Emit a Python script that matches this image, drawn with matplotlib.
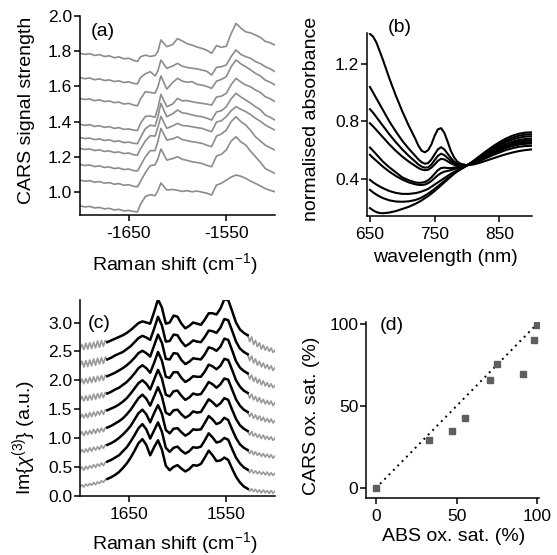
import numpy as np
import matplotlib
matplotlib.use("Agg")
import matplotlib.pyplot as plt

plt.rcParams['font.family'] = ['Liberation Sans', 'DejaVu Sans']
plt.rcParams['mathtext.fontset'] = 'custom'
plt.rcParams['mathtext.rm'] = 'Liberation Sans'
plt.rcParams['mathtext.it'] = 'Liberation Sans:italic'
plt.rcParams['axes.unicode_minus'] = False

# ---- (a) CARS spectra, raw signal ----
shift_a = [-1700, -1695, -1690, -1685, -1680, -1675, -1670, -1665, -1660, -1655, -1650, -1645,
           -1641, -1638, -1633, -1628, -1623, -1620, -1617, -1611, -1605,
           -1600, -1595, -1590, -1585, -1580, -1575, -1570, -1565, -1560, -1555, -1550,
           -1545, -1540, -1535, -1530, -1525, -1520, -1515, -1510, -1505, -1500]
cars_a = [
    [1.788, 1.782, 1.786, 1.776, 1.781, 1.770, 1.774, 1.763, 1.768, 1.757, 1.760, 1.748,
     1.742, 1.768, 1.778, 1.770, 1.776, 1.800, 1.864, 1.826, 1.838,
     1.872, 1.858, 1.842, 1.835, 1.824, 1.816, 1.806, 1.788, 1.832, 1.822, 1.828,
     1.900, 1.958, 1.932, 1.910, 1.904, 1.892, 1.878, 1.856, 1.848, 1.835],
    [1.650, 1.644, 1.648, 1.638, 1.643, 1.634, 1.637, 1.628, 1.632, 1.622, 1.626, 1.617,
     1.615, 1.650, 1.672, 1.684, 1.660, 1.690, 1.750, 1.703, 1.716,
     1.731, 1.715, 1.708, 1.703, 1.700, 1.693, 1.686, 1.665, 1.708, 1.712, 1.722,
     1.770, 1.807, 1.782, 1.769, 1.760, 1.741, 1.730, 1.712, 1.700, 1.684],
    [1.532, 1.526, 1.529, 1.519, 1.524, 1.514, 1.518, 1.508, 1.511, 1.500, 1.504, 1.494,
     1.490, 1.528, 1.570, 1.566, 1.562, 1.600, 1.660, 1.585, 1.622,
     1.646, 1.630, 1.624, 1.627, 1.612, 1.608, 1.600, 1.589, 1.630, 1.640, 1.655,
     1.712, 1.750, 1.728, 1.712, 1.694, 1.674, 1.660, 1.636, 1.624, 1.608],
    [1.385, 1.379, 1.383, 1.373, 1.377, 1.368, 1.372, 1.362, 1.366, 1.356, 1.359, 1.352,
     1.350, 1.390, 1.430, 1.432, 1.425, 1.480, 1.555, 1.485, 1.500,
     1.532, 1.518, 1.520, 1.513, 1.508, 1.504, 1.500, 1.494, 1.540, 1.545, 1.561,
     1.610, 1.646, 1.625, 1.608, 1.598, 1.580, 1.566, 1.542, 1.530, 1.514],
    [1.310, 1.304, 1.307, 1.298, 1.302, 1.293, 1.297, 1.287, 1.291, 1.281, 1.284, 1.277,
     1.275, 1.310, 1.360, 1.380, 1.375, 1.430, 1.504, 1.428, 1.445,
     1.466, 1.450, 1.446, 1.438, 1.432, 1.428, 1.420, 1.409, 1.455, 1.462, 1.485,
     1.530, 1.561, 1.540, 1.523, 1.505, 1.485, 1.468, 1.438, 1.425, 1.409],
    [1.248, 1.242, 1.245, 1.236, 1.240, 1.231, 1.234, 1.225, 1.228, 1.219, 1.222, 1.212,
     1.210, 1.245, 1.290, 1.320, 1.318, 1.370, 1.430, 1.362, 1.376,
     1.390, 1.378, 1.376, 1.371, 1.366, 1.362, 1.352, 1.343, 1.398, 1.405, 1.428,
     1.462, 1.485, 1.470, 1.457, 1.440, 1.419, 1.402, 1.381, 1.366, 1.352],
    [1.157, 1.151, 1.154, 1.145, 1.149, 1.140, 1.143, 1.134, 1.137, 1.128, 1.131, 1.122,
     1.120, 1.150, 1.200, 1.235, 1.236, 1.290, 1.362, 1.296, 1.302,
     1.314, 1.298, 1.292, 1.286, 1.282, 1.277, 1.266, 1.258, 1.318, 1.330, 1.352,
     1.400, 1.428, 1.400, 1.381, 1.350, 1.314, 1.290, 1.267, 1.252, 1.239],
    [1.068, 1.062, 1.065, 1.056, 1.060, 1.051, 1.054, 1.045, 1.048, 1.039, 1.042, 1.033,
     1.030, 1.060, 1.110, 1.150, 1.155, 1.190, 1.245, 1.182, 1.190,
     1.201, 1.186, 1.180, 1.172, 1.168, 1.163, 1.152, 1.144, 1.205, 1.215, 1.239,
     1.290, 1.314, 1.285, 1.267, 1.232, 1.201, 1.170, 1.134, 1.120, 1.106],
    [0.922, 0.916, 0.919, 0.910, 0.913, 0.905, 0.908, 0.899, 0.902, 0.893, 0.896, 0.890,
     0.888, 0.930, 0.975, 0.985, 0.980, 1.010, 1.052, 1.012, 1.015,
     1.010, 1.004, 1.008, 1.002, 1.006, 1.000, 0.994, 0.983, 1.040, 1.050, 1.068,
     1.085, 1.097, 1.090, 1.078, 1.062, 1.049, 1.035, 1.020, 1.010, 1.002],
]

# ---- (b) absorbance spectra ----
wl = [650, 655, 660, 665, 670, 680, 690, 700, 710, 720, 725, 730, 735, 740, 745, 750, 755, 760,
      765, 770, 775, 780, 785, 790, 800, 810, 820, 830, 840, 850, 860, 870, 880, 890, 900]
absorb = [
    [1.41, 1.39, 1.35, 1.29, 1.23, 1.10, 0.98, 0.87, 0.77, 0.68, 0.63, 0.595, 0.585, 0.60, 0.64, 0.70, 0.745, 0.753,
     0.72, 0.66, 0.595, 0.55, 0.52, 0.505, 0.495, 0.500, 0.512, 0.527, 0.542, 0.557, 0.571, 0.583, 0.593, 0.600, 0.605],
    [1.04, 1.00, 0.96, 0.92, 0.88, 0.80, 0.73, 0.665, 0.61, 0.56, 0.535, 0.515, 0.505, 0.51, 0.535, 0.57, 0.605, 0.62,
     0.605, 0.575, 0.545, 0.52, 0.505, 0.498, 0.495, 0.505, 0.525, 0.545, 0.565, 0.583, 0.600, 0.613, 0.623, 0.628, 0.630],
    [0.885, 0.86, 0.83, 0.80, 0.77, 0.71, 0.655, 0.605, 0.56, 0.52, 0.50, 0.485, 0.478, 0.48, 0.50, 0.53, 0.56, 0.575,
     0.565, 0.545, 0.525, 0.508, 0.498, 0.494, 0.494, 0.508, 0.530, 0.553, 0.575, 0.596, 0.614, 0.628, 0.638, 0.644, 0.646],
    [0.787, 0.765, 0.74, 0.715, 0.69, 0.64, 0.595, 0.555, 0.52, 0.49, 0.475, 0.465, 0.46, 0.463, 0.478, 0.50, 0.525, 0.54,
     0.535, 0.522, 0.508, 0.498, 0.493, 0.492, 0.494, 0.510, 0.534, 0.558, 0.581, 0.603, 0.622, 0.637, 0.648, 0.654, 0.656],
    [0.618, 0.595, 0.57, 0.545, 0.52, 0.48, 0.445, 0.41, 0.39, 0.375, 0.372, 0.373, 0.378, 0.39, 0.41, 0.435, 0.46, 0.475,
     0.478, 0.475, 0.475, 0.478, 0.482, 0.486, 0.495, 0.515, 0.540, 0.565, 0.590, 0.612, 0.631, 0.647, 0.658, 0.665, 0.667],
    [0.567, 0.545, 0.525, 0.505, 0.485, 0.45, 0.42, 0.395, 0.375, 0.362, 0.358, 0.357, 0.36, 0.37, 0.385, 0.405, 0.425, 0.44,
     0.45, 0.455, 0.46, 0.468, 0.475, 0.482, 0.496, 0.518, 0.545, 0.572, 0.598, 0.622, 0.642, 0.658, 0.670, 0.677, 0.679],
    [0.393, 0.375, 0.36, 0.347, 0.335, 0.315, 0.302, 0.295, 0.295, 0.30, 0.305, 0.312, 0.32, 0.33, 0.345, 0.36, 0.375, 0.39,
     0.405, 0.42, 0.435, 0.448, 0.46, 0.47, 0.494, 0.520, 0.550, 0.580, 0.608, 0.634, 0.656, 0.673, 0.686, 0.694, 0.696],
    [0.323, 0.305, 0.29, 0.277, 0.266, 0.25, 0.242, 0.24, 0.243, 0.252, 0.26, 0.27, 0.283, 0.297, 0.313, 0.33, 0.348, 0.366,
     0.385, 0.403, 0.42, 0.436, 0.452, 0.465, 0.493, 0.523, 0.555, 0.587, 0.617, 0.644, 0.667, 0.686, 0.700, 0.708, 0.710],
    [0.196, 0.18, 0.168, 0.162, 0.16, 0.165, 0.175, 0.19, 0.205, 0.225, 0.237, 0.25, 0.265, 0.28, 0.297, 0.315, 0.335, 0.355,
     0.375, 0.395, 0.415, 0.435, 0.452, 0.468, 0.493, 0.525, 0.560, 0.594, 0.626, 0.655, 0.680, 0.700, 0.714, 0.722, 0.724],
]

# ---- (c) retrieved Im chi(3) spectra: gray = data, black = fit ----
shift_left = [1700, 1698, 1696, 1694, 1692, 1690, 1688, 1686, 1684, 1682, 1680, 1678, 1676, 1674, 1672]
shift_mid = [1672, 1668, 1664, 1660, 1656, 1652, 1648, 1644, 1640, 1636, 1632, 1628, 1624, 1620, 1616, 1612,
             1608, 1604, 1600, 1596, 1592, 1588, 1584, 1580, 1576, 1572, 1568, 1564, 1560, 1556, 1552, 1548,
             1544, 1540, 1536, 1532, 1528]
shift_right = [1528, 1526, 1524, 1522, 1520, 1518, 1516, 1514, 1512, 1510, 1508, 1506, 1504, 1502, 1500]
offsets_c = [0.0, 0.3, 0.6, 0.9, 1.2, 1.5, 1.8, 2.1, 2.4]

chi_left = [
    [0.15, 0.19, 0.15, 0.20, 0.17, 0.21, 0.18, 0.23, 0.19, 0.24, 0.21, 0.26, 0.23, 0.28, 0.29],
    [0.15, 0.20, 0.14, 0.21, 0.16, 0.22, 0.18, 0.24, 0.19, 0.25, 0.21, 0.27, 0.22, 0.28, 0.29],
    [0.14, 0.20, 0.15, 0.21, 0.16, 0.23, 0.17, 0.24, 0.19, 0.25, 0.20, 0.27, 0.22, 0.28, 0.28],
    [0.15, 0.21, 0.14, 0.22, 0.16, 0.23, 0.17, 0.25, 0.18, 0.26, 0.20, 0.27, 0.21, 0.28, 0.28],
    [0.14, 0.21, 0.15, 0.22, 0.15, 0.24, 0.17, 0.25, 0.18, 0.26, 0.20, 0.28, 0.21, 0.29, 0.28],
    [0.15, 0.22, 0.14, 0.23, 0.15, 0.24, 0.16, 0.26, 0.17, 0.27, 0.19, 0.28, 0.20, 0.29, 0.27],
    [0.14, 0.22, 0.14, 0.23, 0.15, 0.25, 0.16, 0.26, 0.17, 0.27, 0.19, 0.28, 0.20, 0.29, 0.27],
    [0.15, 0.23, 0.13, 0.24, 0.14, 0.25, 0.15, 0.27, 0.16, 0.28, 0.18, 0.29, 0.19, 0.30, 0.26],
    [0.14, 0.22, 0.13, 0.24, 0.14, 0.25, 0.15, 0.26, 0.16, 0.28, 0.17, 0.29, 0.19, 0.29, 0.26],
]
chi_fit = [
    [0.29, 0.32, 0.36, 0.41, 0.48, 0.56, 0.66, 0.78, 0.91, 0.98, 0.88, 0.70, 0.84, 0.96, 0.80, 0.52, 0.44, 0.50, 0.53,
     0.47, 0.42, 0.46, 0.53, 0.52, 0.55, 0.66, 0.78, 0.70, 0.60, 0.61, 0.66, 0.62, 0.47, 0.33, 0.23, 0.16, 0.12],
    [0.29, 0.32, 0.36, 0.40, 0.47, 0.54, 0.64, 0.75, 0.87, 0.94, 0.85, 0.69, 0.83, 0.97, 0.81, 0.53, 0.46, 0.53, 0.55,
     0.48, 0.43, 0.47, 0.54, 0.53, 0.55, 0.66, 0.78, 0.71, 0.62, 0.64, 0.70, 0.67, 0.51, 0.36, 0.26, 0.19, 0.15],
    [0.28, 0.31, 0.35, 0.40, 0.46, 0.53, 0.61, 0.72, 0.83, 0.89, 0.81, 0.67, 0.83, 0.97, 0.82, 0.54, 0.48, 0.56, 0.57,
     0.50, 0.44, 0.48, 0.55, 0.54, 0.55, 0.66, 0.78, 0.72, 0.64, 0.67, 0.75, 0.71, 0.55, 0.40, 0.29, 0.23, 0.19],
    [0.28, 0.31, 0.35, 0.39, 0.44, 0.51, 0.59, 0.69, 0.79, 0.85, 0.78, 0.66, 0.82, 0.98, 0.82, 0.54, 0.50, 0.58, 0.59,
     0.51, 0.45, 0.49, 0.56, 0.54, 0.55, 0.66, 0.77, 0.72, 0.65, 0.70, 0.79, 0.76, 0.59, 0.43, 0.32, 0.26, 0.22],
    [0.28, 0.31, 0.34, 0.38, 0.43, 0.49, 0.57, 0.66, 0.75, 0.80, 0.74, 0.64, 0.81, 0.98, 0.83, 0.55, 0.52, 0.61, 0.62,
     0.53, 0.46, 0.50, 0.57, 0.55, 0.56, 0.66, 0.77, 0.73, 0.67, 0.73, 0.83, 0.81, 0.64, 0.47, 0.36, 0.29, 0.25],
    [0.27, 0.30, 0.34, 0.37, 0.42, 0.47, 0.54, 0.62, 0.71, 0.76, 0.71, 0.63, 0.80, 0.99, 0.84, 0.56, 0.54, 0.64, 0.64,
     0.54, 0.47, 0.51, 0.57, 0.56, 0.56, 0.65, 0.77, 0.74, 0.69, 0.75, 0.87, 0.85, 0.68, 0.50, 0.39, 0.32, 0.28],
    [0.27, 0.30, 0.33, 0.37, 0.41, 0.46, 0.52, 0.59, 0.67, 0.71, 0.67, 0.61, 0.80, 0.99, 0.85, 0.57, 0.56, 0.67, 0.66,
     0.55, 0.48, 0.52, 0.58, 0.57, 0.56, 0.65, 0.77, 0.75, 0.71, 0.78, 0.92, 0.90, 0.72, 0.53, 0.42, 0.36, 0.32],
    [0.26, 0.29, 0.33, 0.36, 0.39, 0.44, 0.49, 0.56, 0.63, 0.67, 0.64, 0.60, 0.79, 1.00, 0.85, 0.57, 0.58, 0.69, 0.68,
     0.57, 0.49, 0.53, 0.59, 0.57, 0.56, 0.65, 0.76, 0.75, 0.72, 0.81, 0.96, 0.94, 0.76, 0.57, 0.45, 0.39, 0.35],
    [0.26, 0.29, 0.32, 0.35, 0.38, 0.42, 0.47, 0.53, 0.59, 0.62, 0.60, 0.58, 0.78, 1.00, 0.86, 0.58, 0.60, 0.72, 0.70,
     0.58, 0.50, 0.54, 0.60, 0.58, 0.56, 0.65, 0.76, 0.76, 0.74, 0.84, 1.00, 0.99, 0.80, 0.60, 0.48, 0.42, 0.38],
]
chi_right = [
    [0.12, 0.08, 0.12, 0.07, 0.11, 0.06, 0.10, 0.05, 0.10, 0.05, 0.09, 0.04, 0.09, 0.04, 0.08],
    [0.15, 0.10, 0.15, 0.09, 0.13, 0.08, 0.12, 0.07, 0.11, 0.06, 0.11, 0.05, 0.10, 0.05, 0.09],
    [0.19, 0.13, 0.18, 0.11, 0.16, 0.10, 0.14, 0.08, 0.13, 0.07, 0.12, 0.06, 0.11, 0.05, 0.09],
    [0.22, 0.15, 0.21, 0.13, 0.18, 0.11, 0.16, 0.09, 0.15, 0.08, 0.13, 0.07, 0.12, 0.06, 0.10],
    [0.25, 0.17, 0.23, 0.14, 0.20, 0.12, 0.18, 0.10, 0.16, 0.08, 0.14, 0.07, 0.13, 0.06, 0.10],
    [0.28, 0.19, 0.26, 0.16, 0.22, 0.13, 0.20, 0.11, 0.17, 0.09, 0.15, 0.08, 0.14, 0.06, 0.11],
    [0.32, 0.22, 0.29, 0.18, 0.25, 0.15, 0.22, 0.12, 0.19, 0.10, 0.16, 0.08, 0.14, 0.07, 0.11],
    [0.35, 0.24, 0.32, 0.20, 0.27, 0.16, 0.23, 0.13, 0.20, 0.11, 0.17, 0.09, 0.15, 0.07, 0.12],
    [0.38, 0.27, 0.35, 0.22, 0.29, 0.18, 0.25, 0.14, 0.21, 0.12, 0.18, 0.10, 0.16, 0.08, 0.12],
]

# ---- (d) oxygen saturation comparison ----
abs_sat = [0, 33, 47, 55, 71, 75, 91, 98, 100]
cars_sat = [0, 29.5, 35, 43, 66, 75.5, 69.5, 90, 99]
ideal = [0, 100]

GRAY = '#8c8c8c'
TICK_FS = 12.5
LABEL_FS = 14


def style_axes(ax):
    for s in ['top', 'right']:
        ax.spines[s].set_visible(False)
    for s in ['left', 'bottom']:
        ax.spines[s].set_linewidth(1.1)
    ax.tick_params(direction='out', length=4, width=1.1, labelsize=TICK_FS)
    ax.tick_params(axis='y', pad=1.5)
    ax.tick_params(axis='x', pad=4)


fig = plt.figure(figsize=(5.57, 5.55), dpi=100)
W, H = 557.0, 555.0

# (a)
ax = fig.add_axes([80 / W, 1 - 215 / H, 195 / W, 199 / H])
for y in cars_a:
    ax.plot(shift_a, y, color=GRAY, lw=1.2)
ax.set_xlim(-1700, -1500)
ax.set_ylim(0.87, 2.0)
ax.set_xticks([-1650, -1550])
ax.set_yticks([1.0, 1.2, 1.4, 1.6, 1.8, 2.0])
style_axes(ax)
ax.set_ylabel('CARS signal strength', fontsize=LABEL_FS)
ax.yaxis.set_label_coords(-0.231, 0.528)
ax.set_xlabel('Raman shift (cm$^{-1}$)', fontsize=LABEL_FS)
ax.xaxis.set_label_coords(0.485, -0.18)
ax.text(0.055, 0.92, '(a)', transform=ax.transAxes, fontsize=LABEL_FS, va='center')

# (b)
ax = fig.add_axes([366.7 / W, 1 - 215.7 / H, 165 / W, 182.7 / H])
for y in absorb:
    ax.plot(wl, y, color='black', lw=1.5)
ax.set_xlim(645, 900)
ax.set_ylim(0.143, 1.416)
ax.set_xticks([650, 750, 850])
ax.set_yticks([0.4, 0.8, 1.2])
style_axes(ax)
ax.set_ylabel('normalised absorbance', fontsize=LABEL_FS)
ax.yaxis.set_label_coords(-0.283, 0.532)
ax.set_xlabel('wavelength (nm)', fontsize=LABEL_FS)
ax.xaxis.set_label_coords(0.475, -0.18)
ax.text(0.125, 1.03, '(b)', transform=ax.transAxes, fontsize=LABEL_FS, va='center')

# (c)
ax = fig.add_axes([80 / W, 1 - 495.7 / H, 195 / W, 195.7 / H])
for left, fit, right, off in zip(chi_left, chi_fit, chi_right, offsets_c):
    ax.plot(shift_left, np.array(left) + off, color='#9a9a9a', lw=1.2)
    ax.plot(shift_right, np.array(right) + off, color='#9a9a9a', lw=1.2)
    ax.plot(shift_mid, np.array(fit) + off, color='black', lw=1.8)
ax.set_xlim(1700, 1500)
ax.set_ylim(0, 3.39)
ax.set_xticks([1650, 1550])
ax.set_yticks([0, 0.5, 1.0, 1.5, 2.0, 2.5, 3.0])
ax.set_yticklabels(['0.0', '0.5', '1.0', '1.5', '2.0', '2.5', '3.0'])
style_axes(ax)
ax.set_ylabel('Im{$\\chi^{(3)}$} (a.u.)', fontsize=LABEL_FS)
ax.yaxis.set_label_coords(-0.215, 0.30)
ax.set_xlabel('Raman shift (cm$^{-1}$)', fontsize=LABEL_FS)
ax.xaxis.set_label_coords(0.485, -0.175)
ax.text(0.04, 0.88, '(c)', transform=ax.transAxes, fontsize=LABEL_FS, va='center')

# (d)
ax = fig.add_axes([366 / W, 1 - 497.7 / H, 173 / W, 175.7 / H])
ax.plot(ideal, ideal, color='black', lw=1.4, linestyle=(0, (1, 2.2)))
ax.plot(abs_sat, cars_sat, linestyle='none', marker='s', markersize=5,
        color='#5e5e5e')
ax.set_xlim(-6, 101)
ax.set_ylim(-5.7, 101)
ax.set_xticks([0, 50, 100])
ax.set_yticks([0, 50, 100])
style_axes(ax)
ax.set_ylabel('CARS ox. sat. (%)', fontsize=LABEL_FS)
ax.yaxis.set_label_coords(-0.266, 0.465)
ax.set_xlabel('ABS ox. sat. (%)', fontsize=LABEL_FS)
ax.xaxis.set_label_coords(0.506, -0.172)
ax.text(0.08, 0.98, '(d)', transform=ax.transAxes, fontsize=LABEL_FS, va='center')

fig.savefig('out.png', dpi=100)
